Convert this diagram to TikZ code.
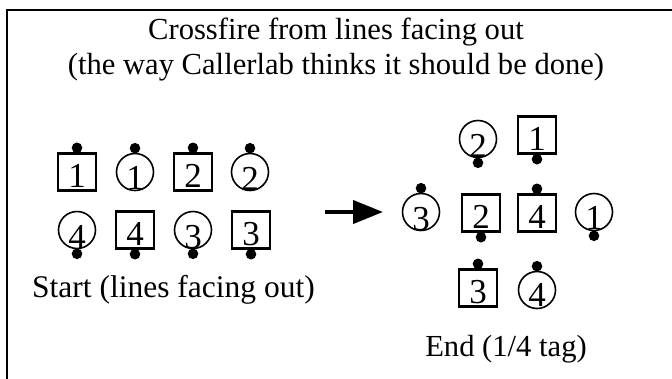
\documentclass[tikz,border=0pt]{standalone}
\usepackage{fontspec}
\setmainfont{Liberation Serif}
\usetikzlibrary{arrows.meta}
\begin{document}
\begin{tikzpicture}[x=1pt,y=-1pt,
  sq/.style={draw,line width=2.4pt,minimum width=38pt,minimum height=37pt,inner sep=0pt},
  cir/.style={draw,circle,line width=1.6pt,minimum size=37pt,inner sep=0pt},
  num/.style={inner sep=0pt,anchor=base,font=\fontsize{35}{37}\selectfont},
  txt/.style={inner sep=0pt,anchor=base,font=\fontsize{30.6}{35}\selectfont},
  dotr/.style={fill=black}]
\useasboundingbox (0,0) rectangle (672,378);
% frame
\coordinate (f1) at (7,380);
\coordinate (f2) at (7,10);
\coordinate (f3) at (674,10);
\draw[line width=2.4pt] (f1) -- (f2) -- (f3);
% title
\node[txt] (t1) at (336,39) {Crossfire from lines facing out};
\node[txt] (t2) at (336,74) {(the way Callerlab thinks it should be done)};
% left formation: row 1
\node[sq]  (s1a) at (77,172) {};
\node[cir] (c1a) at (135,172) {};
\node[sq]  (s2a) at (193,172) {};
\node[cir] (c2a) at (250,172) {};
% row 2
\node[cir] (c4a) at (77,230) {};
\node[sq]  (s4a) at (135,230) {};
\node[cir] (c3a) at (193,230) {};
\node[sq]  (s3a) at (251,230) {};
% numbers
\node[num] at ([yshift=-15pt]s1a.center) {1};
\node[num] at ([yshift=-17pt]c1a.center) {1};
\node[num] at ([yshift=-15pt]s2a.center) {2};
\node[num] at ([yshift=-18pt]c2a.center) {2};
\node[num] at ([yshift=-18pt]c4a.center) {4};
\node[num] at ([yshift=-15pt]s4a.center) {4};
\node[num] at ([yshift=-18pt]c3a.center) {3};
\node[num] at ([yshift=-15pt]s3a.center) {3};
% dots
\fill[dotr] ([yshift=4.5pt]s1a.north) circle (5.3pt);
\fill[dotr] ([yshift=4.5pt]c1a.north) circle (5.3pt);
\fill[dotr] ([yshift=4.5pt]s2a.north) circle (5.3pt);
\fill[dotr] ([yshift=4.5pt]c2a.north) circle (5.3pt);
\fill[dotr] ([yshift=-4.5pt]c4a.south) circle (5.3pt);
\fill[dotr] ([yshift=-4.5pt]s4a.south) circle (5.3pt);
\fill[dotr] ([yshift=-4.5pt]c3a.south) circle (5.3pt);
\fill[dotr] ([yshift=-4.5pt]s3a.south) circle (5.3pt);
\node[txt,font=\fontsize{31.5}{35}\selectfont] (start) at (173.5,297) {Start (lines facing out)};
% arrow
\coordinate (a1) at (325,212);
\coordinate (a2) at (383,212);
\draw[line width=4pt,-{Triangle[length=30pt,width=23pt]}] (a1) -- (a2);
% right formation
\node[cir] (c2b) at (478,139) {};
\node[sq]  (s1b) at (537,135) {};
\node[cir] (c3b) at (421,212) {};
\node[sq]  (s2b) at (481,213) {};
\node[sq]  (s4b) at (537,213) {};
\node[cir] (c1b) at (594,212) {};
\node[sq]  (s3b) at (478,288) {};
\node[cir] (c4b) at (537,290) {};
\node[num] at ([yshift=-18pt]c2b.center) {2};
\node[num] at ([yshift=-15pt]s1b.center) {1};
\node[num] at ([yshift=-18pt]c3b.center) {3};
\node[num] at ([yshift=-15pt]s2b.center) {2};
\node[num] at ([yshift=-15pt]s4b.center) {4};
\node[num] at ([yshift=-17pt]c1b.center) {1};
\node[num] at ([yshift=-15pt]s3b.center) {3};
\node[num] at ([yshift=-16pt]c4b.center) {4};
\fill[dotr] ([yshift=-4.5pt]c2b.south) circle (5.3pt);
\fill[dotr] ([yshift=-4.5pt]s1b.south) circle (5.3pt);
\fill[dotr] ([yshift=4.5pt]c3b.north) circle (5.3pt);
\fill[dotr] ([yshift=-4.5pt]s2b.south) circle (5.3pt);
\fill[dotr] ([yshift=4.5pt]s4b.north) circle (5.3pt);
\fill[dotr] ([yshift=-4.5pt]c1b.south) circle (5.3pt);
\fill[dotr] ([yshift=4.5pt]s3b.north) circle (5.3pt);
\fill[dotr] ([yshift=4.5pt]c4b.north) circle (5.3pt);
\node[txt] (end) at (506,356) {End (1/4 tag)};
\end{tikzpicture}
\end{document}
